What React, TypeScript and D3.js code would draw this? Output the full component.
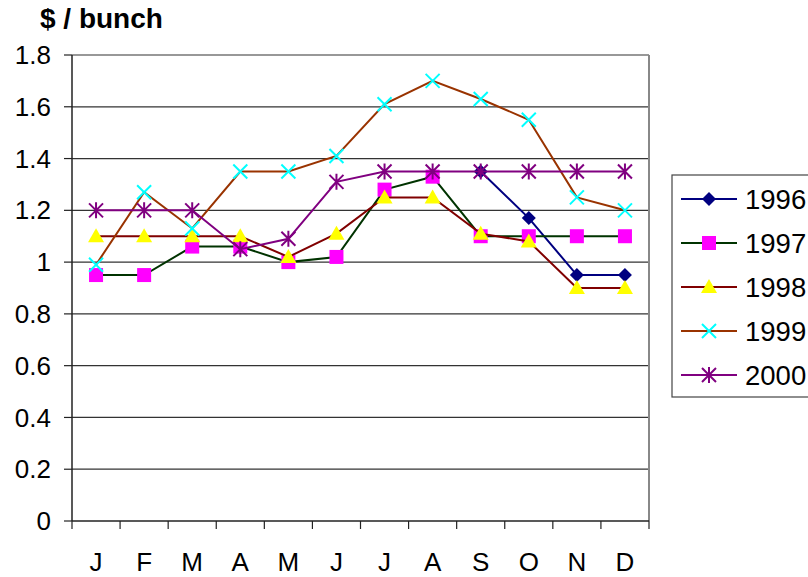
import React from "react";
import * as d3 from "d3";

const months = ["J", "F", "M", "A", "M", "J", "J", "A", "S", "O", "N", "D"];
const yTicks = [0, 0.2, 0.4, 0.6, 0.8, 1, 1.2, 1.4, 1.6, 1.8];

const y1996 = [null, null, null, null, null, null, null, null, 1.35, 1.17, 0.95, 0.95];
const y1997 = [0.95, 0.95, 1.06, 1.06, 1.0, 1.02, 1.28, 1.33, 1.1, 1.1, 1.1, 1.1];
const y1998 = [1.1, 1.1, 1.1, 1.1, 1.02, 1.11, 1.25, 1.25, 1.11, 1.08, 0.9, 0.9];
const y1999 = [0.99, 1.27, 1.13, 1.35, 1.35, 1.41, 1.61, 1.7, 1.63, 1.55, 1.25, 1.2];
const y2000 = [1.2, 1.2, 1.2, 1.05, 1.09, 1.31, 1.35, 1.35, 1.35, 1.35, 1.35, 1.35];

type Series = {
  name: string;
  values: (number | null)[];
  line: string;
  fill: string;
  marker: "diamond" | "square" | "triangle" | "x" | "star";
};

const series: Series[] = [
  { name: "1996", values: y1996, line: "#000080", fill: "#000080", marker: "diamond" },
  { name: "1997", values: y1997, line: "#003300", fill: "#ff00ff", marker: "square" },
  { name: "1998", values: y1998, line: "#800000", fill: "#ffff00", marker: "triangle" },
  { name: "1999", values: y1999, line: "#993300", fill: "#00ffff", marker: "x" },
  { name: "2000", values: y2000, line: "#800080", fill: "#800080", marker: "star" },
];

const font = "'Liberation Sans', Arial, sans-serif";

function Marker({ kind, cx, cy, color }: { kind: Series["marker"]; cx: number; cy: number; color: string }) {
  const r = 7;
  switch (kind) {
    case "diamond":
      return <path d={`M${cx},${cy - r}L${cx + r},${cy}L${cx},${cy + r}L${cx - r},${cy}Z`} fill={color} />;
    case "square":
      return <rect x={cx - r} y={cy - r} width={2 * r} height={2 * r} fill={color} />;
    case "triangle":
      return <path d={`M${cx},${cy - r - 1}L${cx + r + 1},${cy + r - 1}L${cx - r - 1},${cy + r - 1}Z`} fill={color} />;
    case "x":
      return (
        <path
          d={`M${cx - r},${cy - r}L${cx + r},${cy + r}M${cx - r},${cy + r}L${cx + r},${cy - r}`}
          stroke={color}
          strokeWidth={2}
        />
      );
    case "star":
      return (
        <path
          d={`M${cx - r},${cy - r}L${cx + r},${cy + r}M${cx - r},${cy + r}L${cx + r},${cy - r}M${cx},${cy - r - 1}L${cx},${cy + r + 1}`}
          stroke={color}
          strokeWidth={2}
        />
      );
  }
}

export default function App() {
  const width = 808;
  const height = 577;
  const margin = { left: 72, right: 159, top: 55, bottom: 56 };

  const x = d3
    .scaleBand<number>()
    .domain(months.map((_, i) => i))
    .range([margin.left, width - margin.right])
    .padding(0);
  const y = d3.scaleLinear().domain([0, 1.8]).range([height - margin.bottom, margin.top]);
  const cx = (i: number) => (x(i) ?? 0) + x.bandwidth() / 2;

  const line = d3
    .line<number | null>()
    .defined((d) => d !== null)
    .x((_, i) => cx(i))
    .y((d) => y(d as number));

  const x0 = margin.left;
  const x1 = width - margin.right;
  const yb = y(0);

  const legendX = 672;
  const legendY = 175;
  const rowH = 44;

  return (
    <svg
      width={width}
      height={height}
      style={{ position: "absolute", left: 0, top: 0, background: "#fff" }}
      fontFamily={font}
    >
      <text x={40} y={28} fontSize={28} fontWeight="bold">
        $ / bunch
      </text>

      {yTicks.map((t) => (
        <g key={t}>
          {t > 0 && <line x1={x0} x2={x1} y1={y(t)} y2={y(t)} stroke="#333" strokeWidth={1.2} />}
          <line x1={x0 - 8} x2={x0} y1={y(t)} y2={y(t)} stroke="#222" strokeWidth={1.2} />
          <text x={51} y={y(t)} dy="0.35em" textAnchor="end" fontSize={26}>
            {t === 0 ? "0" : String(t)}
          </text>
        </g>
      ))}

      <line x1={x1} x2={x1} y1={y(1.8)} y2={yb} stroke="#888" strokeWidth={2} />
      <line x1={x0} x2={x0} y1={y(1.8)} y2={yb} stroke="#222" strokeWidth={1.5} />
      <line x1={x0} x2={x1} y1={yb} y2={yb} stroke="#222" strokeWidth={1.5} />

      {months.map((m, i) => (
        <g key={i}>
          <line x1={x(i)} x2={x(i)} y1={yb} y2={yb + 8} stroke="#222" strokeWidth={1.2} />
          <text x={cx(i)} y={571} textAnchor="middle" fontSize={26}>
            {m}
          </text>
        </g>
      ))}
      <line x1={x1} x2={x1} y1={yb} y2={yb + 8} stroke="#222" strokeWidth={1.2} />

      {series.map((s) => (
        <g key={s.name}>
          <path d={line(s.values) ?? ""} fill="none" stroke={s.line} strokeWidth={2} />
          {s.values.map((v, i) =>
            v === null ? null : <Marker key={i} kind={s.marker} cx={cx(i)} cy={y(v)} color={s.fill} />
          )}
        </g>
      ))}

      <rect x={legendX} y={legendY} width={200} height={222} fill="#fff" stroke="#444" strokeWidth={1.2} />
      {series.map((s, i) => {
        const ly = legendY + 24 + i * rowH;
        return (
          <g key={s.name}>
            <line x1={681} x2={737} y1={ly} y2={ly} stroke={s.line} strokeWidth={2} />
            <Marker kind={s.marker} cx={709} cy={ly} color={s.fill} />
            <text x={745} y={ly} dy="0.36em" fontSize={27.5}>
              {s.name}
            </text>
          </g>
        );
      })}
    </svg>
  );
}
